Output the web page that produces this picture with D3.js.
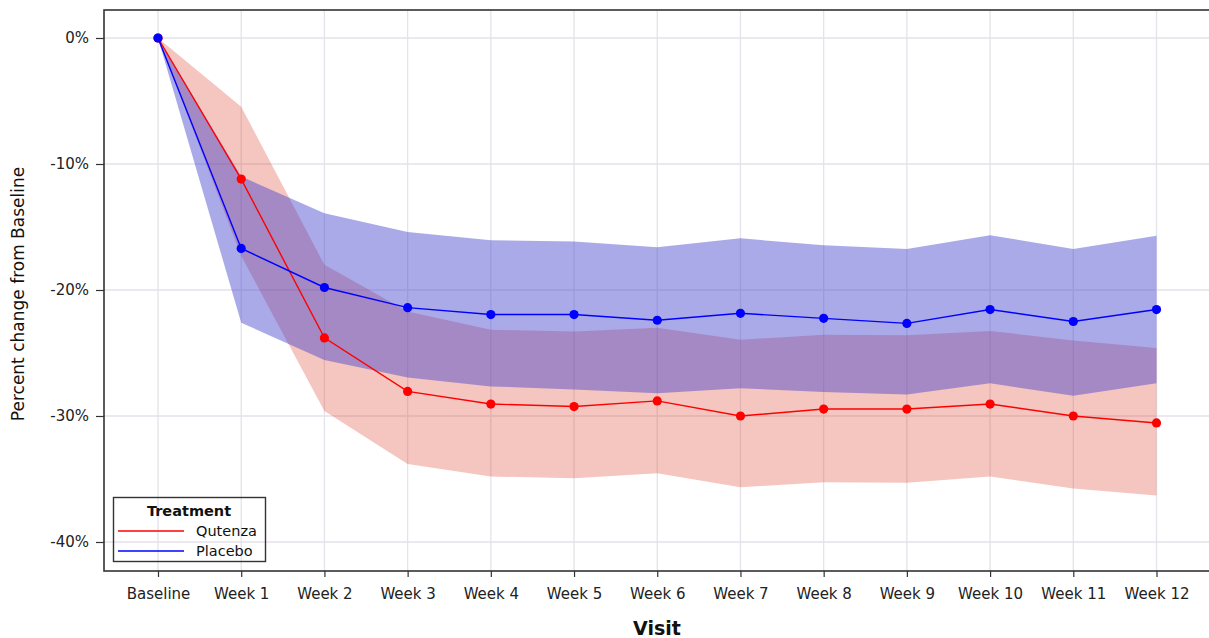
<!DOCTYPE html>
<html>
<head>
<meta charset="utf-8">
<script src="https://cdn.jsdelivr.net/npm/d3@7"></script>
<style>
  body { margin: 0; background: #fff; }
  svg { display: block; font-family: "DejaVu Sans", sans-serif; }
</style>
</head>
<body>
<svg id="chart" width="1209" height="638"></svg>
<script>
const visits = ["Baseline","Week 1","Week 2","Week 3","Week 4","Week 5","Week 6","Week 7","Week 8","Week 9","Week 10","Week 11","Week 12"];
const qutenzaMean  = [0, -11.2, -23.8, -28.05, -29.05, -29.25, -28.8, -30.0, -29.45, -29.45, -29.05, -30.0, -30.55];
const qutenzaUpper = [0, -5.45, -18.0, -21.7, -23.15, -23.3, -23.0, -23.95, -23.55, -23.6, -23.25, -24.0, -24.6];
const qutenzaLower = [0, -17.3, -29.6, -33.8, -34.8, -34.95, -34.55, -35.65, -35.25, -35.3, -34.8, -35.75, -36.3];
const placeboMean  = [0, -16.7, -19.8, -21.4, -21.95, -21.95, -22.4, -21.85, -22.25, -22.65, -21.55, -22.5, -21.55];
const placeboUpper = [0, -11.0, -13.9, -15.4, -16.05, -16.15, -16.6, -15.9, -16.45, -16.75, -15.65, -16.75, -15.7];
const placeboLower = [0, -22.6, -25.55, -26.95, -27.65, -27.9, -28.2, -27.8, -28.1, -28.3, -27.4, -28.4, -27.4];
const yTicks = [0, -10, -20, -30, -40];
const legendTitle = "Treatment";
const seriesNames = ["Qutenza", "Placebo"];

(function () {
const svg = d3.select("#chart");
const pL = 104, pR = 1213, pT = 10, pB = 571;
const FONT = "'DejaVu Sans', sans-serif";

const x = d3.scalePoint().domain(visits).range([158, 1156.5]);
const y = d3.scaleLinear().domain([-40, 0]).range([542, 38]);

// gridlines
const grid = svg.append("g");
grid.selectAll("line.v").data(visits).enter().append("line")
  .attr("x1", d => x(d)).attr("x2", d => x(d))
  .attr("y1", pT).attr("y2", pB)
  .attr("stroke", "#e4e2ea").attr("stroke-width", 1.3);
grid.selectAll("line.h").data(yTicks).enter().append("line")
  .attr("x1", pL).attr("x2", pR)
  .attr("y1", d => y(d)).attr("y2", d => y(d))
  .attr("stroke", "#e4e2ea").attr("stroke-width", 1.3);

const idx = d3.range(visits.length);
const area = (lo, hi) => d3.area()
  .x(i => x(visits[i])).y0(i => y(lo[i])).y1(i => y(hi[i]));

svg.append("path").datum(idx).attr("d", area(qutenzaLower, qutenzaUpper))
  .attr("fill", "rgb(222,62,44)").attr("fill-opacity", 0.3);
svg.append("path").datum(idx).attr("d", area(placeboLower, placeboUpper))
  .attr("fill", "rgb(62,62,206)").attr("fill-opacity", 0.44);

const line = vals => d3.line().x(i => x(visits[i])).y(i => y(vals[i]));
const series = [
  {vals: qutenzaMean, color: "#ff0000"},
  {vals: placeboMean, color: "#0000ff"}
];
series.forEach(s => {
  svg.append("path").datum(idx).attr("d", line(s.vals))
    .attr("fill", "none").attr("stroke", s.color).attr("stroke-width", 1.4);
  svg.append("g").selectAll("circle").data(idx).enter().append("circle")
    .attr("cx", i => x(visits[i])).attr("cy", i => y(s.vals[i]))
    .attr("r", 4.6).attr("fill", s.color);
});

// frame
svg.append("rect").attr("x", pL).attr("y", pT)
  .attr("width", pR - pL).attr("height", pB - pT)
  .attr("fill", "none").attr("stroke", "#333").attr("stroke-width", 1.6);

// y axis
const yAxis = d3.axisLeft(y).tickValues(yTicks).tickSize(8).tickPadding(7)
  .tickFormat(d => d + "%");
const ya = svg.append("g").attr("transform", `translate(${pL},0)`).call(yAxis);
ya.select(".domain").remove();
ya.selectAll("line").attr("stroke", "#333").attr("stroke-width", 1.2);
ya.selectAll("text").attr("font-size", 15).attr("fill", "#222")
  .attr("font-family", FONT);

// x axis
const xAxis = d3.axisBottom(x).tickSize(6).tickPadding(11);
const xa = svg.append("g").attr("transform", `translate(0,${pB})`).call(xAxis);
xa.select(".domain").remove();
xa.selectAll("line").attr("stroke", "#333").attr("stroke-width", 1.2);
xa.selectAll("text").attr("font-size", 15).attr("fill", "#222")
  .attr("font-family", FONT);

// axis titles
svg.append("text").attr("x", 657).attr("y", 635).attr("text-anchor", "middle")
  .attr("font-size", 19).attr("font-weight", "bold").attr("fill", "#111").text("Visit");
svg.append("text").attr("transform", "translate(24,294) rotate(-90)")
  .attr("text-anchor", "middle").attr("font-size", 17).attr("fill", "#111")
  .text("Percent change from Baseline");

// legend
const lg = svg.append("g");
lg.append("rect").attr("x", 113.5).attr("y", 497.5).attr("width", 152).attr("height", 64)
  .attr("fill", "none").attr("stroke", "#333").attr("stroke-width", 1.4);
lg.append("text").attr("x", 189).attr("y", 516).attr("text-anchor", "middle")
  .attr("font-size", 14.5).attr("font-weight", "bold").attr("fill", "#111").text(legendTitle);
series.forEach((s, i) => {
  const yy = 531 + i * 20;
  lg.append("line").attr("x1", 118).attr("x2", 184).attr("y1", yy).attr("y2", yy)
    .attr("stroke", s.color).attr("stroke-width", 1.4);
  lg.append("text").attr("x", 196).attr("y", yy + 5).attr("font-size", 14.5)
    .attr("fill", "#111").text(seriesNames[i]);
});
})();
</script>
</body>
</html>
